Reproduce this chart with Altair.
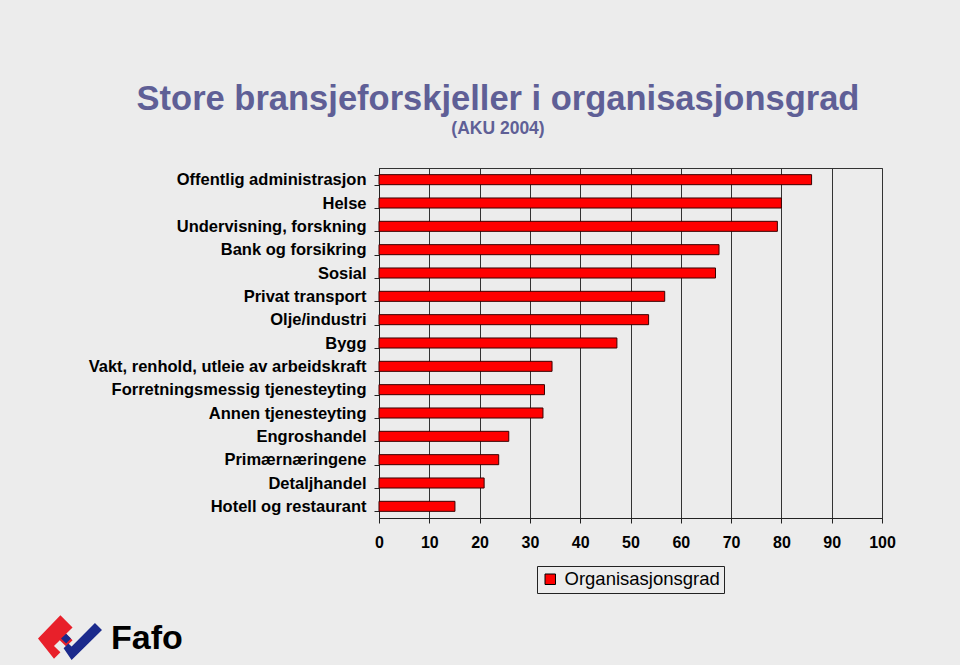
import altair as alt
import pandas as pd

categories = [
    "Offentlig administrasjon", "Helse", "Undervisning, forskning",
    "Bank og forsikring", "Sosial", "Privat transport", "Olje/industri",
    "Bygg", "Vakt, renhold, utleie av arbeidskraft",
    "Forretningsmessig tjenesteyting", "Annen tjenesteyting",
    "Engroshandel", "Primærnæringene", "Detaljhandel", "Hotell og restaurant",
]
values = [86.0, 80.0, 79.2, 67.6, 66.9, 56.8, 53.6, 47.3,
          34.4, 32.9, 32.6, 25.8, 23.8, 20.9, 15.1]
series_name = "Organisasjonsgrad"
x_ticks = [0, 10, 20, 30, 40, 50, 60, 70, 80, 90, 100]

title_text = "Store bransjeforskjeller i organisasjonsgrad"
subtitle_text = "(AKU 2004)"
logo_text = "Fafo"

BG = "#ececec"
FONT = "Liberation Sans"

df = pd.DataFrame({"Bransje": categories, "Verdi": values, "Serie": series_name})

bars = alt.Chart(df).mark_bar(stroke="#3a0000", strokeWidth=1).encode(
    x=alt.X("Verdi:Q",
            scale=alt.Scale(domain=[0, 100], nice=False, zero=True),
            axis=alt.Axis(values=x_ticks, title=None, grid=True, gridColor="#333333",
                          gridWidth=1, domainColor="#222222", tickColor="#222222",
                          tickSize=5, labelFontSize=16, labelFontWeight="bold",
                          labelColor="black", labelFont=FONT, labelPadding=11,
                          labelFlush=False)),
    y=alt.Y("Bransje:N", sort=categories,
            scale=alt.Scale(paddingInner=0.57, paddingOuter=0.285),
            axis=alt.Axis(title=None, grid=False, tickBand="extent", tickSize=5,
                          tickColor="#222222", domainColor="#222222",
                          labelFontSize=16.5, labelFontWeight="bold", labelColor="black",
                          labelFont=FONT, labelPadding=8, labelLimit=400)),
    color=alt.Color("Serie:N",
                    scale=alt.Scale(domain=[series_name], range=["#ff0000"]),
                    legend=alt.Legend(title=None, orient="none", legendX=158, legendY=398,
                                      direction="horizontal", strokeColor="#222222",
                                      padding=4, symbolType="square", symbolSize=110,
                                      symbolStrokeColor="black", symbolStrokeWidth=1,
                                      labelFontSize=18.5, labelFont=FONT, labelColor="black",
                                      labelOffset=5)),
)

title_df = pd.DataFrame({"t": [title_text]})
title = alt.Chart(title_df).mark_text(
    font=FONT, fontSize=34.5, fontWeight="bold", color="#5f5f96", align="center",
    baseline="alphabetic"
).encode(text="t:N", x=alt.value(119), y=alt.value(-58))

sub_df = pd.DataFrame({"t": [subtitle_text]})
subtitle = alt.Chart(sub_df).mark_text(
    font=FONT, fontSize=17.5, fontWeight="bold", color="#5f5f96", align="center",
    baseline="alphabetic"
).encode(text="t:N", x=alt.value(119), y=alt.value(-34))

logo_df = pd.DataFrame({"t": [logo_text]})
logo = alt.Chart(logo_df).mark_text(
    font=FONT, fontSize=34, fontWeight="bold", color="black", align="left",
    baseline="alphabetic"
).encode(text="t:N", x=alt.value(-268), y=alt.value(481))

red_path = "M -1 0.05 L -0.3 -0.68 L 0.08 -0.3 L -0.12 -0.1 L 0.08 0.1 L -0.12 0.3 L -0.32 0.1 L -0.5 0.28 L -0.3 0.48 L -0.5 0.68 Z"
blue_path = "M -0.2 0.35 L 0.05 0.72 L 1 -0.22 L 0.78 -0.44 L 0.05 0.3 L -0.05 0.2 Z M -0.28 0.05 L -0.12 -0.1 L 0.03 0.05 L -0.12 0.2 Z"
logo_red = alt.Chart(logo_df).mark_point(
    shape=red_path, filled=True, fill="#e8202a", strokeWidth=0, opacity=1, size=4096
).encode(x=alt.value(-309), y=alt.value(469))
logo_blue = alt.Chart(logo_df).mark_point(
    shape=blue_path, filled=True, fill="#1b2a8c", strokeWidth=0, opacity=1, size=4096
).encode(x=alt.value(-309), y=alt.value(469))

chart = alt.layer(bars, title, subtitle, logo, logo_red, logo_blue).properties(
    width=503, height=350,
    background=BG,
    autosize=alt.AutoSizeParams(type="none"),
    padding={"left": 379, "top": 168, "right": 78, "bottom": 147},
).configure_view(stroke="#333333", strokeWidth=1, fill=BG)

chart.save("out.html", embed_options={"renderer": "svg", "actions": False})
